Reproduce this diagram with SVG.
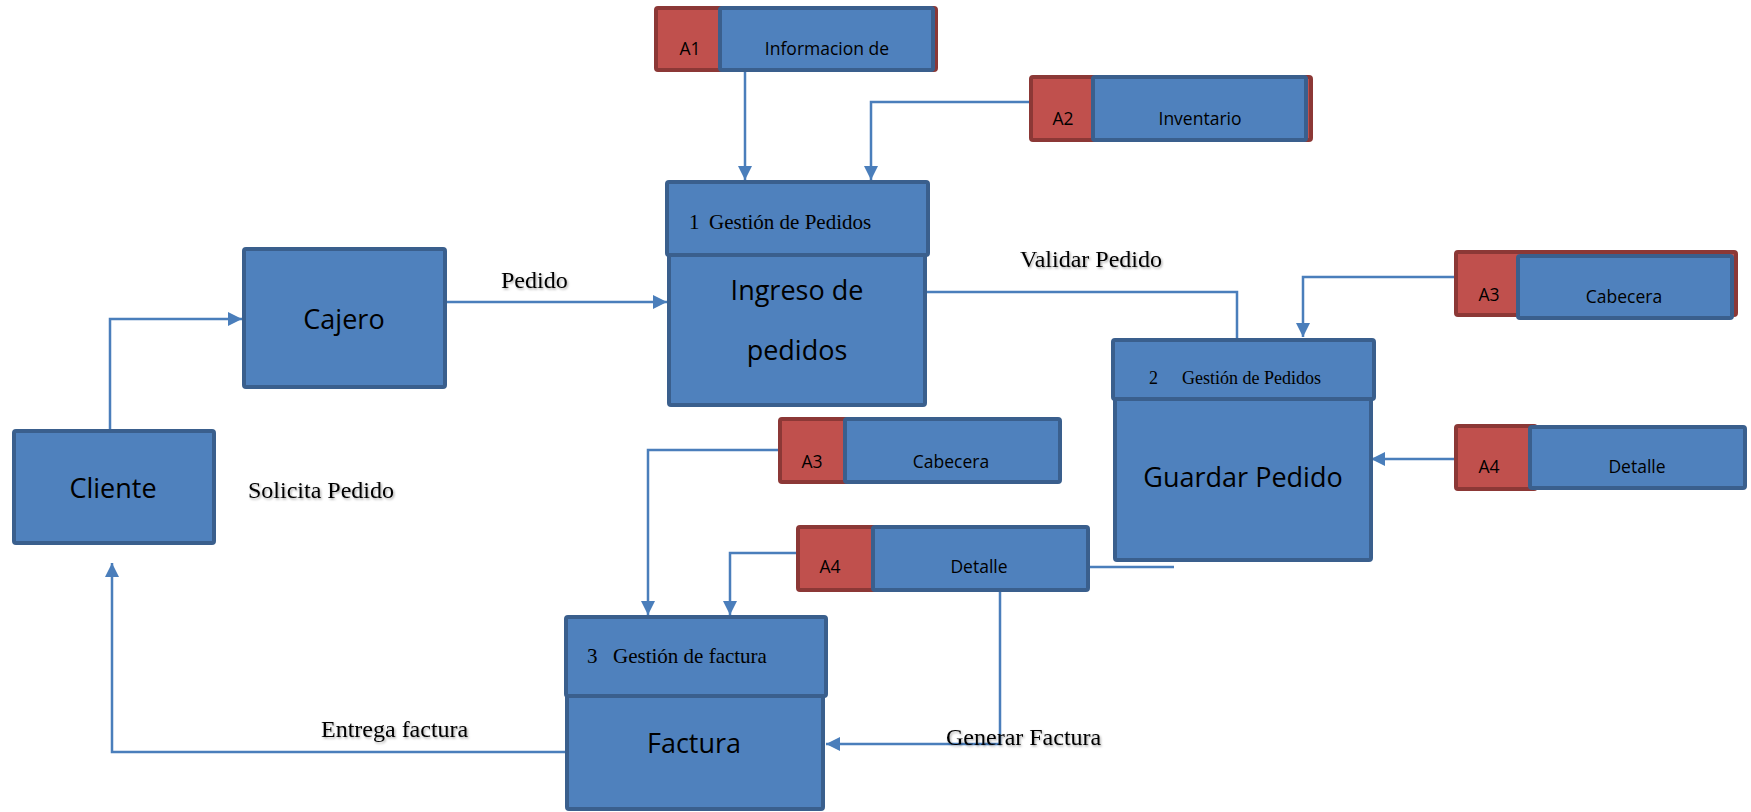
<svg xmlns="http://www.w3.org/2000/svg" width="1751" height="812" viewBox="0 0 1751 812">
  <style>
    .box { fill: #4F81BD; stroke: #3A5F8D; stroke-width: 4; }
    .tag { fill: #C0504D; stroke: #8C3836; stroke-width: 4; }
    .big { font-family: "Open Sans", "Liberation Sans", sans-serif; font-size: 27px; fill: #000; text-anchor: middle; }
    .small { font-family: "Open Sans", "Liberation Sans", sans-serif; font-size: 17.5px; fill: #000; text-anchor: middle; }
    .head { font-family: "Liberation Serif", "Times New Roman", serif; font-size: 21px; fill: #000; }
    .label { font-family: "Liberation Serif", "Times New Roman", serif; font-size: 24px; fill: #000; filter: url(#shade); }
    .wire { fill: none; stroke: #4A7EBB; stroke-width: 2.5; }
    .arrow { marker-end: url(#tip); }
  </style>
  <defs>
    <marker id="tip" markerUnits="userSpaceOnUse" markerWidth="15" markerHeight="15" refX="14" refY="7" orient="auto">
      <path d="M0,0 L14,7 L0,14 z" fill="#4A7EBB"/>
    </marker>
    <filter id="shade" x="-10%" y="-30%" width="120%" height="160%">
      <feDropShadow dx="1.2" dy="1.5" stdDeviation="1" flood-color="#000" flood-opacity="0.35"/>
    </filter>
  </defs>
  <rect width="1751" height="812" fill="#fff"/>

  <!-- connectors -->
  <g id="connectors">
    <path class="wire arrow" d="M110 429 V319 H242"/>
    <path class="wire arrow" d="M447 302 H667"/>
    <path class="wire arrow" d="M745 72 V180"/>
    <path class="wire arrow" d="M1029 102 H871 V180"/>
    <path class="wire" d="M927 292 H1237 V338"/>
    <path class="wire arrow" d="M1454 277 H1303 V337"/>
    <path class="wire arrow" d="M1467 459 H1371"/>
    <path class="wire arrow" d="M783 450 H648 V615"/>
    <path class="wire arrow" d="M796 553 H730 V615"/>
    <path class="wire arrow" d="M1000 592 V744 H826"/>
    <path class="wire" d="M1090 567 H1174"/>
    <path class="wire arrow" d="M565 752 H112 V563"/>
  </g>

  <!-- external entities -->
  <g id="cliente">
    <rect class="box" x="14" y="431" width="200" height="112" rx="2"/>
    <text class="big" x="113" y="498">Cliente</text>
  </g>
  <g id="cajero">
    <rect class="box" x="244" y="249" width="201" height="138" rx="2"/>
    <text class="big" x="344" y="329">Cajero</text>
  </g>

  <!-- process 1 -->
  <g id="proceso1">
    <rect class="box" x="669" y="250" width="256" height="155" rx="2"/>
    <rect class="box" x="667" y="182" width="261" height="73" rx="2"/>
    <text class="head" y="229"><tspan x="689">1</tspan><tspan x="709">Gestión de Pedidos</tspan></text>
    <text class="big" x="797" y="300">Ingreso de</text>
    <text class="big" x="797" y="360">pedidos</text>
  </g>

  <!-- process 2 -->
  <g id="proceso2">
    <rect class="box" x="1115" y="394" width="256" height="166" rx="2"/>
    <rect class="box" x="1113" y="340" width="261" height="59" rx="2"/>
    <text class="head" y="384" style="font-size:18px"><tspan x="1149">2</tspan><tspan x="1182">Gestión de Pedidos</tspan></text>
    <text class="big" x="1243" y="487">Guardar Pedido</text>
  </g>

  <!-- process 3 -->
  <g id="proceso3">
    <rect class="box" x="567" y="690" width="256" height="119" rx="2"/>
    <rect class="box" x="566" y="617" width="260" height="79" rx="2"/>
    <text class="head" y="663"><tspan x="587">3</tspan><tspan x="613">Gestión de factura</tspan></text>
    <text class="big" x="694" y="753">Factura</text>
  </g>

  <!-- data stores -->
  <g id="a1">
    <rect class="tag" x="656" y="8" width="280" height="62" rx="2"/>
    <rect class="box" x="720" y="8" width="213" height="62" rx="2"/>
    <text class="small" x="690" y="55">A1</text>
    <text class="small" x="827" y="55">Informacion de</text>
  </g>
  <g id="a2">
    <rect class="tag" x="1031" y="77" width="280" height="63" rx="2"/>
    <rect class="box" x="1093" y="77" width="213" height="63" rx="2"/>
    <text class="small" x="1063" y="125">A2</text>
    <text class="small" x="1200" y="125">Inventario</text>
  </g>
  <g id="a3-cabecera">
    <rect class="tag" x="1456" y="252" width="280" height="63" rx="2"/>
    <rect class="box" x="1518" y="256" width="214" height="62" rx="2"/>
    <text class="small" x="1489" y="301">A3</text>
    <text class="small" x="1624" y="303">Cabecera</text>
  </g>
  <g id="a4-detalle">
    <rect class="tag" x="1456" y="426" width="80" height="63" rx="2"/>
    <rect class="box" x="1530" y="427" width="215" height="61" rx="2"/>
    <text class="small" x="1489" y="473">A4</text>
    <text class="small" x="1637" y="473">Detalle</text>
  </g>
  <g id="a3-cabecera-factura">
    <rect class="tag" x="780" y="419" width="70" height="63" rx="2"/>
    <rect class="box" x="845" y="419" width="215" height="63" rx="2"/>
    <text class="small" x="812" y="468">A3</text>
    <text class="small" x="951" y="468">Cabecera</text>
  </g>
  <g id="a4-detalle-factura">
    <rect class="tag" x="798" y="527" width="78" height="63" rx="2"/>
    <rect class="box" x="873" y="527" width="215" height="63" rx="2"/>
    <text class="small" x="830" y="573">A4</text>
    <text class="small" x="979" y="573">Detalle</text>
  </g>

  <!-- flow labels -->
  <g id="labels">
    <text class="label" x="501" y="288">Pedido</text>
    <text class="label" x="1020" y="267">Validar Pedido</text>
    <text class="label" x="248" y="498">Solicita Pedido</text>
    <text class="label" x="321" y="737">Entrega factura</text>
    <text class="label" x="946" y="745">Generar Factura</text>
  </g>
</svg>
